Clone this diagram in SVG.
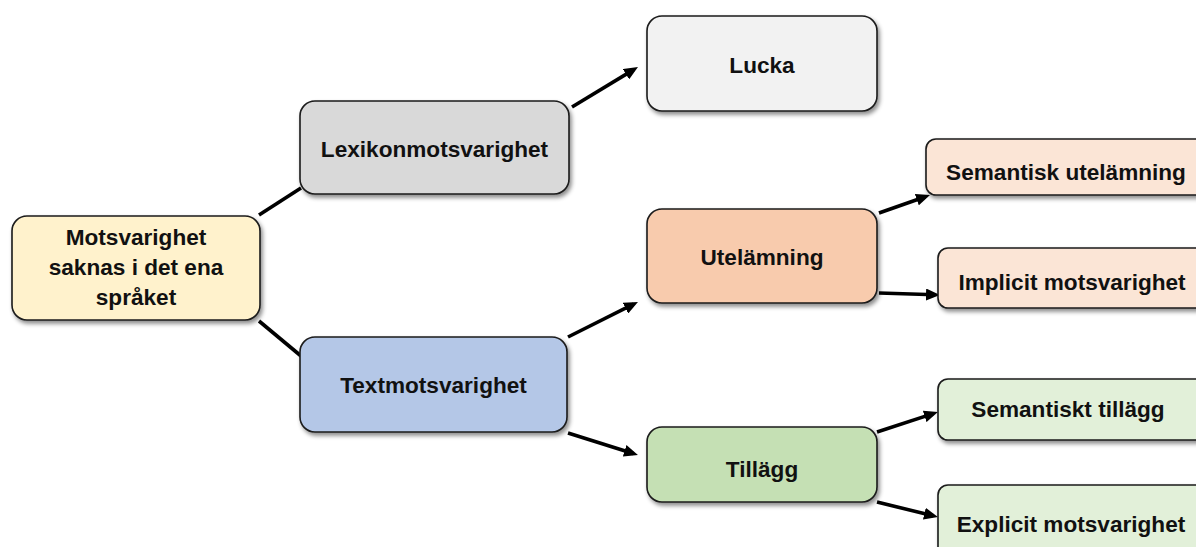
<svg xmlns="http://www.w3.org/2000/svg" width="1196" height="547" viewBox="0 0 1196 547">
<defs>
<filter id="sh" x="-10%" y="-10%" width="130%" height="140%">
<feDropShadow dx="2" dy="3" stdDeviation="2.2" flood-color="#000" flood-opacity="0.45"/>
</filter>
<marker id="ah" viewBox="0 0 14 12" refX="9" refY="6" markerWidth="14" markerHeight="12" markerUnits="userSpaceOnUse" orient="auto">
<path d="M0,0 L14,6 L0,12 z" fill="#000"/>
</marker>
</defs>
<style>
.box{stroke:#1a1a1a;stroke-width:1.6;filter:url(#sh)}
.t{font-family:"Liberation Sans",Arial,sans-serif;font-weight:bold;font-size:22.6px;fill:#111;text-anchor:middle}
.c{stroke:#000;stroke-width:3.6;fill:none}
.a{marker-end:url(#ah)}
</style>
<g id="connectors">
<line class="c" x1="259" y1="215" x2="301" y2="188"/>
<line class="c" x1="259" y1="321" x2="301" y2="356"/>
<line class="c a" x1="572" y1="107" x2="633.7" y2="69.6"/>
<line class="c a" x1="568" y1="337" x2="633.5" y2="304.2"/>
<line class="c a" x1="568" y1="433" x2="633.2" y2="453.5"/>
<line class="c a" x1="879" y1="213" x2="925.3" y2="196.7"/>
<line class="c a" x1="879" y1="293" x2="935" y2="294.8"/>
<line class="c a" x1="877" y1="432" x2="933.2" y2="413.6"/>
<line class="c a" x1="877" y1="502" x2="933.1" y2="515.8"/>
</g>
<g id="root">
<rect class="box" x="12" y="216" width="248" height="104" rx="15" fill="#FFF2CC"/>
<text class="t" x="136" y="245">Motsvarighet</text>
<text class="t" x="136" y="275">saknas i det ena</text>
<text class="t" x="136" y="305">språket</text>
</g>
<g id="lexikon">
<rect class="box" x="300" y="101" width="269" height="93" rx="15" fill="#D9D9D9"/>
<text class="t" x="434.5" y="157">Lexikonmotsvarighet</text>
</g>
<g id="lucka">
<rect class="box" x="647" y="16" width="230" height="95" rx="15" fill="#F2F2F2"/>
<text class="t" x="762" y="73">Lucka</text>
</g>
<g id="text">
<rect class="box" x="300" y="337" width="267" height="95" rx="15" fill="#B4C7E7"/>
<text class="t" x="433.5" y="393">Textmotsvarighet</text>
</g>
<g id="utelamning">
<rect class="box" x="647" y="209" width="230" height="94" rx="15" fill="#F8CBAD"/>
<text class="t" x="762" y="265">Utelämning</text>
</g>
<g id="tillagg">
<rect class="box" x="647" y="427" width="230" height="75" rx="15" fill="#C5E0B4"/>
<text class="t" x="762" y="477">Tillägg</text>
</g>
<g id="semantisk-utelamning">
<rect class="box" x="926" y="139" width="300" height="56" rx="10" fill="#FBE5D6"/>
<text class="t" x="1066" y="180">Semantisk utelämning</text>
</g>
<g id="implicit">
<rect class="box" x="938" y="248" width="300" height="60" rx="10" fill="#FBE5D6"/>
<text class="t" x="1072" y="290">Implicit motsvarighet</text>
</g>
<g id="semantiskt-tillagg">
<rect class="box" x="938" y="379" width="300" height="61" rx="10" fill="#E2F0D9"/>
<text class="t" x="1068" y="417">Semantiskt tillägg</text>
</g>
<g id="explicit">
<rect class="box" x="938" y="485" width="300" height="80" rx="10" fill="#E2F0D9"/>
<text class="t" x="1071" y="532">Explicit motsvarighet</text>
</g>
</svg>
